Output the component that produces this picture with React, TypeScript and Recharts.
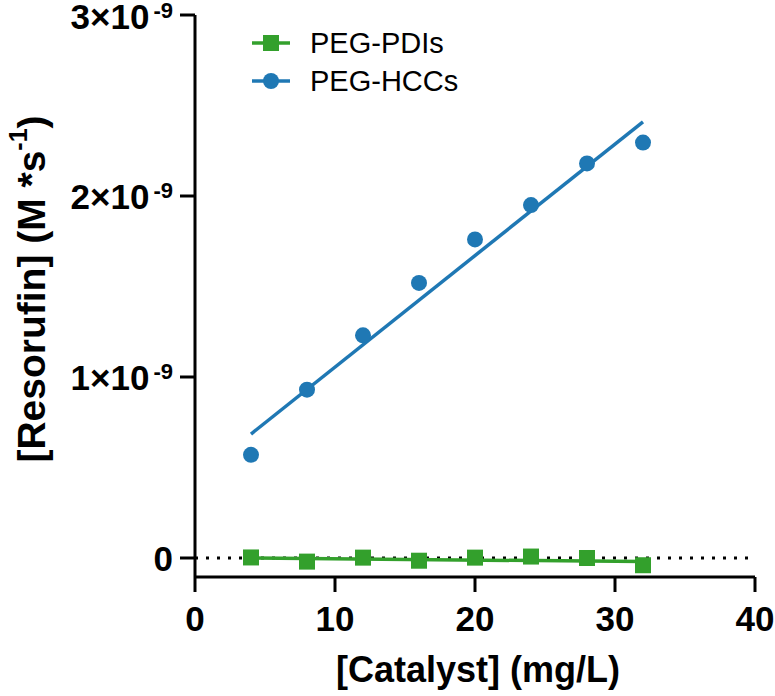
import React from 'react';
import { ComposedChart, XAxis, YAxis, Line, Scatter, ReferenceLine, Legend } from 'recharts';

const catalyst = [4, 8, 12, 16, 20, 24, 28, 32];
const hccValues = [0.57e-9, 0.93e-9, 1.23e-9, 1.52e-9, 1.76e-9, 1.95e-9, 2.18e-9, 2.295e-9];
const pdiValues = [0.003e-9, -0.02e-9, 0.002e-9, -0.015e-9, 0.002e-9, 0.008e-9, 0.0, -0.04e-9];
const hccFitX = [4, 32];
const hccFitY = [0.685e-9, 2.41e-9];
const pdiFitX = [4, 32];
const pdiFitY = [0.0, -0.02e-9];
const xTicks = [0, 10, 20, 30, 40];
const yTicks = [0, 1e-9, 2e-9, 3e-9];
const seriesNames = ['PEG-PDIs', 'PEG-HCCs'];

const GREEN = '#33a02c';
const BLUE = '#1f78b4';
const FONT = 'Liberation Sans, Arial, sans-serif';

const hccData = catalyst.map((x, i) => ({ x, y: hccValues[i] }));
const pdiData = catalyst.map((x, i) => ({ x, y: pdiValues[i] }));
const hccFit = hccFitX.map((x, i) => ({ x, y: hccFitY[i] }));
const pdiFit = pdiFitX.map((x, i) => ({ x, y: pdiFitY[i] }));

const YTick = (props: any) => {
  const { x, y, payload } = props;
  const m = Math.round(payload.value / 1e-9);
  return (
    <text x={x - 5} y={y + 13.5} textAnchor="end" fontFamily={FONT} fontWeight="bold" fontSize={35} fill="#000">
      {m === 0 ? '0' : (
        <>
          <tspan>{`${m}×10`}</tspan>
          <tspan dx={4} dy={-11} fontSize={22}>-9</tspan>
        </>
      )}
    </text>
  );
};

const XTick = (props: any) => {
  const { x, y, payload } = props;
  return (
    <text x={x} y={y + 37} textAnchor="middle" fontFamily={FONT} fontWeight="bold" fontSize={35} fill="#000">
      {payload.value}
    </text>
  );
};

const Circle = (props: any) => {
  const { cx, cy } = props;
  return <circle cx={cx} cy={cy} r={8} fill={BLUE} />;
};
const Square = (props: any) => {
  const { cx, cy } = props;
  return <rect x={cx - 8} y={cy - 8} width={16} height={16} fill={GREEN} />;
};

const LegendContent = () => (
  <svg width={260} height={80}>
    <line x1={12} x2={50} y1={23} y2={23} stroke={GREEN} strokeWidth={3.5} />
    <rect x={23} y={15} width={16} height={16} fill={GREEN} />
    <text x={70} y={33} fontFamily={FONT} fontSize={29} fill="#000">{seriesNames[0]}</text>
    <line x1={12} x2={50} y1={61} y2={61} stroke={BLUE} strokeWidth={3.5} />
    <circle cx={31} cy={61} r={8} fill={BLUE} />
    <text x={70} y={71} fontFamily={FONT} fontSize={29} fill="#000">{seriesNames[1]}</text>
  </svg>
);

const YLabel = () => (
  <text
    x={45}
    y={289}
    transform="rotate(-90, 45, 289)"
    textAnchor="middle"
    fontFamily={FONT}
    fontWeight="bold"
    fontSize={39}
    fill="#000"
  >
    <tspan>[Resorufin] (M *s</tspan>
    <tspan dy={-18} fontSize={25}>-1</tspan>
    <tspan dy={18}>)</tspan>
  </text>
);

const XLabel = () => (
  <text x={478} y={682} textAnchor="middle" fontFamily={FONT} fontWeight="bold" fontSize={36} fill="#000">
    [Catalyst] (mg/L)
  </text>
);

export default function App() {
  return (
    <div style={{ position: 'absolute', left: 0, top: 0, width: 775, height: 696, background: '#fff' }}>
      <ComposedChart width={775} height={696} margin={{ top: 15, right: 20, bottom: 0, left: 0 }}>
        <XAxis
          type="number"
          dataKey="x"
          domain={[0, 40]}
          ticks={xTicks}
          height={119}
          axisLine={{ stroke: '#000', strokeWidth: 3 }}
          tickLine={{ stroke: '#000', strokeWidth: 3 }}
          tickSize={15}
          tick={<XTick />}
          allowDataOverflow
          label={{ content: () => <XLabel /> }}
        />
        <YAxis
          type="number"
          dataKey="y"
          domain={[-0.105e-9, 3e-9]}
          ticks={yTicks}
          width={195}
          axisLine={{ stroke: '#000', strokeWidth: 3 }}
          tickLine={{ stroke: '#000', strokeWidth: 3 }}
          tickSize={15}
          tick={<YTick />}
          allowDataOverflow
          label={{ content: () => <YLabel /> }}
        />
        <ReferenceLine y={0} stroke="#000" strokeWidth={3} strokeDasharray="3 8" segment={[{ x: 0.4, y: 0 }, { x: 39.4, y: 0 }]} />
        <Line data={pdiFit} dataKey="y" stroke={GREEN} strokeWidth={3.5} dot={false} isAnimationActive={false} legendType="none" />
        <Line data={hccFit} dataKey="y" stroke={BLUE} strokeWidth={3.5} dot={false} isAnimationActive={false} legendType="none" />
        <Scatter data={pdiData} dataKey="y" shape={<Square />} isAnimationActive={false} name={seriesNames[0]} />
        <Scatter data={hccData} dataKey="y" shape={<Circle />} isAnimationActive={false} name={seriesNames[1]} />
        <Legend
          layout="vertical"
          align="center"
          verticalAlign="middle"
          content={<LegendContent />}
          wrapperStyle={{ left: 240, top: 20, width: 260, height: 80 }}
        />
      </ComposedChart>
    </div>
  );
}
